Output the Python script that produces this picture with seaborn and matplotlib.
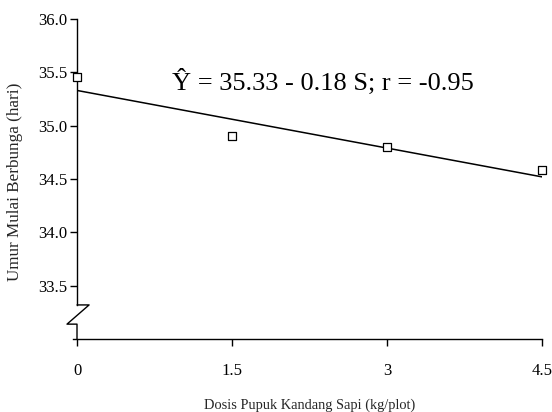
import matplotlib
matplotlib.use("Agg")
import matplotlib.pyplot as plt
import seaborn as sns
import numpy as np
import pandas as pd

# Data
dosis = [0, 1.5, 3, 4.5]
umur = [35.46, 34.90, 34.80, 34.58]
intercept = 35.33
slope = -0.18
x_ticks = [0, 1.5, 3, 4.5]
x_tick_labels = ["0", "1.5", "3", "4.5"]
y_ticks = [33.5, 34.0, 34.5, 35.0, 35.5, 36.0]
equation = "Ŷ = 35.33 - 0.18 S; r = -0.95"
xlabel = "Dosis Pupuk Kandang Sapi (kg/plot)"
ylabel = "Umur Mulai Berbunga (hari)"

sns.set_style("white")
plt.rcParams['font.family'] = ['Liberation Serif', 'DejaVu Serif']

df = pd.DataFrame({"x": dosis, "y": umur})
line_df = pd.DataFrame({"x": [dosis[0], dosis[-1]],
                        "y": [intercept + slope * dosis[0], intercept + slope * dosis[-1]]})

fig = plt.figure(figsize=(5.52, 4.12), dpi=100)
ax = fig.add_axes([0.1395, 0.177, 0.8425, 0.777])

sns.lineplot(data=line_df, x="x", y="y", ax=ax, color="black", linewidth=1.1)
sns.scatterplot(data=df, x="x", y="y", ax=ax, marker="s", s=28,
                facecolor="white", edgecolor="black", linewidth=0.9, zorder=5, clip_on=False)

ax.set_xlim(0, 4.5)
ax.set_ylim(33.0, 36.0)
ax.set_xticks(x_ticks)
ax.set_xticklabels(x_tick_labels)
ax.set_yticks(y_ticks)
ax.set_yticklabels([f"{v:.1f}" for v in y_ticks])

for s in ["top", "right"]:
    ax.spines[s].set_visible(False)
for s in ["left", "bottom"]:
    ax.spines[s].set_color("black")
    ax.spines[s].set_linewidth(1.0)

ax.spines["left"].set_bounds(33.32, 36.0)
ax.spines["bottom"].set_bounds(-0.04, 4.5)

# axis break zigzag
tr = ax.get_yaxis_transform()
ax.plot([0, 0.026, -0.0215, 0, 0], [33.32, 33.32, 33.14, 33.14, 33.0],
        transform=tr, color="black", linewidth=1.0, clip_on=False)

ax.tick_params(axis="both", direction="out", length=5, width=1.0, color="black",
               labelsize=12, labelcolor="black", left=True, bottom=True)
ax.tick_params(axis="y", pad=2)
ax.tick_params(axis="x", pad=12)

ax.set_xlabel(xlabel, fontsize=10.4, labelpad=14)
ax.set_ylabel(ylabel, fontsize=12.3, labelpad=13)
ax.yaxis.set_label_coords(-0.116, 0.492)

ax.text(0.92, 35.41, equation, fontsize=19, color="black", ha="left", va="center",
        transform=ax.transData)

fig.savefig("out.png", dpi=100, facecolor="white")
